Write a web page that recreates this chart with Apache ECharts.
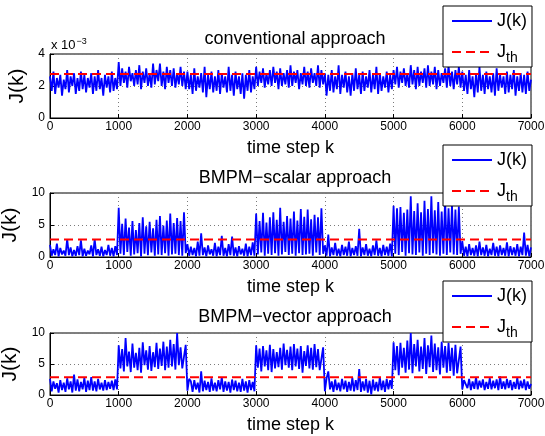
<!DOCTYPE html>
<html><head><meta charset="utf-8">
<script src="https://cdn.jsdelivr.net/npm/echarts@6/dist/echarts.min.js"></script>
<style>html,body{margin:0;padding:0;background:#fff}#c{width:545px;height:436px}</style>
</head><body><div id="c"></div>
<script>
const STEP = 25;
const xTicks = [0, 1000, 2000, 3000, 4000, 5000, 6000, 7000];
const titles = ['conventional approach', 'BMPM\u2212scalar approach', 'BMPM\u2212vector approach'];
// conventional approach, in units of 1e-3
const convJ = [
2.6,1.7,2.9,1.5,2.5,1.9,2.7,1.4,2.4,1.8,
3.0,1.6,2.6,2.0,2.8,1.5,2.5,1.7,2.9,1.8,
2.7,1.6,2.5,1.9,2.8,1.5,2.6,1.7,3.0,1.8,
2.5,1.4,2.7,1.9,2.6,1.6,2.9,1.7,2.5,1.8,
3.5,2.0,3.1,2.2,2.9,1.9,3.2,2.3,2.8,2.0,
3.0,2.1,3.3,1.8,2.9,2.2,3.1,2.0,2.8,1.9,
3.4,2.1,3.0,2.3,3.4,2.0,2.9,1.8,3.2,2.2,
3.0,2.0,3.1,1.9,2.8,2.1,3.2,2.0,2.9,1.8,
2.9,1.8,2.7,1.5,3.1,1.7,2.6,1.9,2.8,1.6,
3.2,1.3,2.7,1.8,2.9,1.6,2.6,1.7,3.0,1.5,
2.8,1.9,2.6,1.6,3.2,1.7,2.7,1.4,2.9,1.8,
2.6,1.5,2.8,1.2,2.7,1.7,3.0,1.6,2.6,1.8,
3.2,2.0,2.9,2.2,3.1,1.9,2.8,2.1,3.0,2.0,
3.2,2.2,2.9,1.8,3.1,2.0,2.8,2.1,3.0,1.9,
3.3,2.0,2.9,2.2,3.0,1.8,2.8,2.1,3.2,2.0,
2.9,1.9,3.1,2.2,2.8,2.0,3.3,1.9,3.0,2.1,
2.8,1.4,2.7,1.7,3.0,1.6,2.6,1.8,3.3,1.5,
2.7,1.9,2.9,1.6,2.6,1.4,2.8,1.7,3.1,1.8,
2.7,1.5,2.9,1.7,2.6,1.9,3.0,1.6,2.7,1.8,
3.2,1.5,2.8,1.7,2.6,1.9,2.9,1.6,2.7,1.8,
3.0,2.1,3.2,1.9,2.9,2.2,3.1,2.0,2.8,1.9,
3.3,2.1,3.0,1.8,3.2,2.0,2.9,2.2,3.1,1.9,
3.3,2.0,2.9,2.1,3.2,1.8,3.0,2.0,2.8,2.2,
3.1,1.9,3.3,2.0,2.9,1.8,3.0,2.1,3.2,1.9,
2.9,1.7,2.7,1.5,3.0,1.8,2.6,1.3,2.8,1.6,
3.2,1.7,2.7,1.5,2.9,1.8,2.6,1.6,2.8,1.4,
3.1,1.7,2.7,1.9,2.6,1.5,2.9,1.6,2.7,1.8,
3.0,1.4,2.6,1.7,2.8,1.6,2.7,1.5,2.9,1.7,
2.4];
const scalarJ = [
1.9,0.2,1.2,0.3,2.1,0.1,1.4,0.4,1.0,0.2,
2.8,0.3,1.5,0.1,1.1,0.2,1.7,0.3,2.6,0.1,
1.3,0.2,1.0,0.4,1.8,0.1,2.8,0.3,1.2,0.2,
1.6,0.1,1.1,0.3,1.9,0.2,1.4,0.1,1.7,0.3,
7.7,0.5,5.2,0.3,6.0,0.8,4.6,0.2,5.6,0.4,
4.2,0.6,5.3,0.1,6.2,0.5,4.8,0.3,5.5,0.7,
4.5,0.2,5.8,0.4,6.4,0.3,4.9,0.6,5.7,0.2,
6.8,0.4,5.3,0.5,6.1,0.3,5.6,0.2,7.0,0.6,
2.0,0.2,1.6,0.3,1.4,0.1,2.4,0.2,3.7,0.3,
1.5,0.1,1.8,0.4,1.2,0.2,2.2,0.1,1.6,0.3,
3.3,0.2,1.4,0.1,2.0,0.3,3.2,0.2,1.5,0.1,
1.7,0.4,1.3,0.2,2.1,0.1,1.6,0.3,2.3,0.2,
6.8,0.4,5.6,0.7,6.9,0.2,5.4,0.5,6.2,0.3,
7.0,0.6,5.8,0.2,7.7,0.4,5.5,0.8,6.4,0.3,
6.0,0.5,7.1,0.2,5.7,0.6,7.5,0.3,6.3,0.4,
7.4,0.5,5.9,0.2,6.6,0.7,6.2,0.3,7.6,0.5,
1.8,0.2,3.5,0.1,1.5,0.3,2.2,0.2,1.3,0.1,
1.9,0.3,1.6,0.2,2.4,0.1,1.4,0.3,1.7,0.2,
4.4,0.1,1.5,0.3,2.0,0.2,1.3,0.1,1.8,0.3,
2.6,0.2,1.4,0.1,1.9,0.3,1.6,0.2,2.1,0.1,
8.0,0.5,7.6,0.3,7.8,0.8,6.9,0.2,7.4,0.6,
9.5,0.4,7.2,0.3,8.4,0.7,7.0,0.2,8.8,0.5,
7.5,0.3,9.5,0.6,7.3,0.4,8.6,0.2,7.1,0.5,
9.0,0.3,7.6,0.7,8.2,0.4,7.4,0.3,7.9,0.5,
2.5,0.2,1.6,0.1,2.0,0.3,1.4,0.2,1.8,0.1,
2.4,0.3,1.5,0.2,1.9,0.1,1.3,0.3,2.2,0.2,
1.6,0.1,1.8,0.3,1.4,0.2,2.3,0.1,1.7,0.3,
1.5,0.2,2.0,0.1,1.6,0.3,3.8,0.2,1.9,0.1,
1.5];
const vectorJ = [
2.6,0.6,2.2,1.0,1.9,0.4,2.4,0.8,2.0,0.5,
2.7,0.9,2.2,0.4,3.3,0.7,2.5,0.6,2.1,0.9,
2.8,0.5,2.3,0.8,2.9,0.7,2.2,0.6,2.6,0.9,
2.0,0.7,2.4,0.8,2.1,1.0,2.3,0.8,2.5,0.9,
8.0,4.3,7.4,3.8,9.2,4.6,7.0,3.7,8.3,4.4,
6.8,4.0,7.6,3.6,8.5,4.8,7.2,4.1,7.9,3.9,
6.9,4.5,8.4,4.2,7.5,4.7,8.6,4.0,7.8,4.4,
8.9,4.6,8.2,4.1,10.0,4.8,7.7,4.3,4.1,8.1,
0.7,2.6,2.2,0.5,2.4,0.9,2.0,0.4,3.8,0.6,
2.3,0.8,2.1,0.5,2.7,0.7,2.0,0.6,2.4,0.9,
2.9,0.5,2.2,0.7,2.1,0.4,2.5,0.8,2.3,0.6,
2.0,0.5,2.6,0.7,2.2,0.4,2.4,0.8,2.1,0.6,
8.0,4.4,7.5,3.8,7.9,4.6,7.2,4.0,8.1,3.7,
7.4,4.3,6.9,4.5,7.6,4.1,8.3,4.8,7.3,4.4,
7.8,4.0,8.2,4.6,7.5,4.2,7.9,3.6,7.1,4.7,
8.0,4.3,7.6,4.1,8.2,4.5,7.4,4.0,3.8,7.7,
0.6,2.7,3.8,0.9,2.2,0.5,2.5,0.8,2.0,0.6,
2.6,0.9,2.3,0.5,2.1,0.7,2.8,0.6,2.4,0.8,
4.2,0.5,2.2,0.7,2.6,0.4,2.3,0.1,2.5,0.7,
2.1,0.6,2.9,0.8,2.3,0.5,2.6,0.9,2.4,1.0,
8.5,4.0,7.9,3.2,8.4,4.4,7.6,3.6,8.8,4.1,
10.0,3.5,8.2,4.6,8.9,3.8,7.8,4.2,9.2,3.4,
8.0,4.5,9.6,3.7,8.3,4.0,7.7,3.3,8.6,4.4,
7.9,3.6,8.4,3.9,7.6,3.1,8.1,3.5,3.4,7.8,
0.9,2.4,2.1,1.1,2.6,0.8,2.2,1.0,2.9,0.9,
2.3,1.2,2.5,0.8,2.1,1.0,2.7,0.9,2.3,1.1,
2.5,0.8,3.0,1.0,2.2,0.9,2.6,1.1,2.4,0.8,
2.1,1.0,2.8,0.9,2.3,1.1,2.5,0.8,2.2,1.0,
1.8];
const thresholds = [2.75, 2.75, 2.85];
const yMax = [4, 10, 10];
const yInterval = [2, 5, 5];

const FONT = 'Liberation Sans, Arial, Helvetica, sans-serif';
const gridTops = [54, 193, 333];
const gridHeights = [64, 64, 62];
const legendTops = [6, 145, 281];
const titleTops = [25, 164, 303];
const series = [convJ, scalarJ, vectorJ];

const chart = echarts.init(document.getElementById('c'), null, {renderer: 'canvas'});
const grid = [], xAxis = [], yAxis = [], ser = [], legend = [], title = [];
for (let p = 0; p < 3; p++) {
  grid.push({left: 50, right: 14, top: gridTops[p], height: gridHeights[p], show: true,
    outerBoundsMode: 'none', containLabel: false,
    borderColor: '#000', borderWidth: 1, backgroundColor: 'transparent'});
  xAxis.push({type: 'value', gridIndex: p, min: 0, max: 7000, interval: 1000, position: 'bottom',
    name: 'time step k', nameLocation: 'middle', nameGap: 21,
    nameTextStyle: {fontFamily: FONT, fontSize: 18, color: '#000'},
    axisLine: {lineStyle: {color: '#000'}},
    axisTick: {inside: true, length: 4, lineStyle: {color: '#000'}},
    axisLabel: {fontFamily: FONT, fontSize: 12, color: '#000', margin: 3, formatter: v => String(v)},
    splitLine: {show: true, lineStyle: {color: '#7a7a7a', type: [1, 3]}}});
  yAxis.push({type: 'value', gridIndex: p, min: 0, max: yMax[p], interval: yInterval[p],
    name: 'J(k)', nameLocation: 'middle', nameGap: 20, nameRotate: 90,
    nameTextStyle: {fontFamily: FONT, fontSize: 21, color: '#000'},
    axisLine: {show: true, lineStyle: {color: '#000'}},
    axisTick: {show: true, inside: true, length: 4, lineStyle: {color: '#000'}},
    axisLabel: {fontFamily: FONT, fontSize: 12, color: '#000', margin: 5, formatter: v => String(v)},
    splitLine: {show: true, lineStyle: {color: '#7a7a7a', type: [1, 3]}}});
  ser.push({name: 'J(k)', type: 'line', xAxisIndex: p, yAxisIndex: p, symbol: 'none',
    lineStyle: {color: '#0000ff', width: 1.8}, itemStyle: {color: '#0000ff'},
    data: series[p].map((v, i) => [i * STEP, v]), z: 2, silent: true});
  ser.push({name: 'Jth', type: 'line', xAxisIndex: p, yAxisIndex: p, symbol: 'none',
    lineStyle: {color: '#ff0000', width: 2, type: [9, 5]}, itemStyle: {color: '#ff0000'},
    data: [[0, thresholds[p]], [7000, thresholds[p]]], z: 3, silent: true});
  legend.push({data: ['J(k)', 'Jth'], orient: 'vertical', left: 443, top: legendTops[p],
    backgroundColor: '#fff', borderColor: '#000', borderWidth: 1, borderRadius: 0,
    padding: [6, 5, 2, 8], itemWidth: 40, itemHeight: 14, itemGap: 9,
    selectedMode: false, z: 10,
    itemStyle: {opacity: 0},
    formatter: n => n === 'Jth' ? '{a|J}{s|th}' : '{a|J(k)}',
    textStyle: {fontFamily: FONT, color: '#000', rich: {
      a: {fontFamily: FONT, fontSize: 18, color: '#000', lineHeight: 21},
      s: {fontFamily: FONT, fontSize: 14, color: '#000', lineHeight: 21, padding: [12, 0, 0, 0]}}}});
  title.push({text: titles[p], left: 290, textAlign: 'center', top: titleTops[p],
    textStyle: {fontFamily: FONT, fontSize: 18, fontWeight: 'normal', color: '#000'}});
}
chart.setOption({
  animation: false,
  backgroundColor: '#fff',
  title, grid, xAxis, yAxis, legend, series: ser,
  graphic: [{type: 'text', left: 51, top: 37, z: 20,
    style: {text: '{a|x 10}{b|\u22123}', rich: {
      a: {fontFamily: FONT, fontSize: 13, fill: '#000'},
      b: {fontFamily: FONT, fontSize: 9, fill: '#000', padding: [0, 0, 8, 1]}}}}]
});
</script></body></html>
